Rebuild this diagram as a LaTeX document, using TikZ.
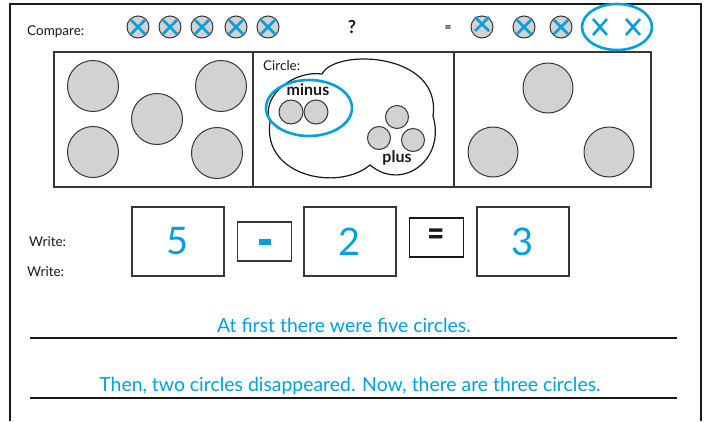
\documentclass[tikz,border=0pt]{standalone}
\usepackage{fontspec}
\setmainfont{Lato}
\usetikzlibrary{positioning}
\definecolor{pen}{RGB}{0, 160, 222}
\definecolor{ink}{RGB}{25, 25, 25}
\definecolor{discgray}{RGB}{210, 210, 210}
\definecolor{rim}{RGB}{55, 55, 55}

\begin{document}
\begin{tikzpicture}[x=1pt, y=-1pt,
    lbl/.style    = {font=\fontsize{13.5}{15}\selectfont\color{ink}, anchor=west, inner sep=0pt},
    disc/.style   = {fill=discgray, draw=rim, line width=1pt},
    dot/.style    = {circle, disc, minimum size=22pt, inner sep=0pt},
    cross/.style  = {draw=pen, line width=2.6pt},
    panel/.style  = {draw=rim, line width=1.2pt},
    numbox/.style = {draw=rim, line width=1.2pt, minimum width=92pt, minimum height=69pt,
                     font=\fontsize{38}{40}\selectfont\color{pen}},
    opbox/.style  = {draw=ink, line width=1.2pt, minimum width=54pt, minimum height=39pt},
    say/.style    = {font=\fontsize{19.4}{22}\selectfont\color{pen}, inner sep=0pt},
    ring/.style   = {draw=pen, line width=2.6pt},
    tag/.style    = {font=\fontsize{16}{18}\selectfont\bfseries\color{ink}},
  ]
    \useasboundingbox (0,0) rectangle (710,421);

    % sheet frame, open at the bottom
    \draw[ink, line width=2pt] (10,421) |- (701,4) -- (701,421);

    % --- compare row ---
    \node[lbl] (cmp) at (27,32) {Compare:};
    \foreach \x [count=\i] in {138,170,202,236,268} {
      \node[dot] (a\i) at (\x,27) {};
      \draw[cross] ([shift={(-7,-7)}]a\i.center) -- ([shift={(7,7)}]a\i.center);
      \draw[cross] ([shift={(-7,7)}]a\i.center) -- ([shift={(7,-7)}]a\i.center);
    }
    \node[font=\fontsize{18}{20}\selectfont\bfseries\color{ink}] (ask) at (352,27) {?};
    \node[font=\fontsize{12}{14}\selectfont\bfseries\color{ink}] (eq) at (448,29) {=};
    \foreach \x/\dy [count=\i] in {482/-3,524/0,561/0} {
      \node[dot] (b\i) at (\x,27) {};
      \draw[cross] ([shift={(-7,-7+\dy)}]b\i.center) -- ([shift={(7,7+\dy)}]b\i.center);
      \draw[cross] ([shift={(-7,7+\dy)}]b\i.center) -- ([shift={(7,-7+\dy)}]b\i.center);
    }
    \foreach \x [count=\i] in {600,633} {
      \coordinate (g\i) at (\x,27);
      \draw[cross] ([shift={(-7,-8)}]g\i) -- ([shift={(7,8)}]g\i);
      \draw[cross] ([shift={(-7,8)}]g\i) -- ([shift={(7,-8)}]g\i);
    }
    \draw[ring] (617,27) ellipse [x radius=35pt, y radius=23pt];

    % --- picture panels ---
    \draw[panel] (54,52) rectangle (651,187);
    \draw[panel] (253,52) -- (253,187);
    \draw[panel] (454,52) -- (454,187);

    % five circles
    \foreach \p in {(93,86),(93,152),(157,119),(221,86),(217,153)}
      \draw[disc] \p circle[radius=25.5pt];

    % the cloud
    \node[lbl] (circ) at (263,66) {Circle:};
    \draw[ink, line width=1.2pt, fill=white]
      (270,122) .. controls (260,95) and (295,70) .. (322,74)
                .. controls (335,48) and (442,52) .. (433,116)
                .. controls (446,160) and (402,192) .. (370,165)
                .. controls (338,192) and (262,176) .. cycle;
    \draw[disc] (291,112) circle[radius=12pt];
    \draw[disc] (316,112) circle[radius=12pt];
    \draw[disc] (397,117) circle[radius=11.5pt];
    \draw[disc] (379,138) circle[radius=11.5pt];
    \draw[disc] (413,140) circle[radius=11.5pt];
    \node[tag] (mns) at (308,90) {minus};
    \node[tag] (pls) at (397,158) {plus};
    \draw[ring] (309,108) ellipse [x radius=43pt, y radius=28pt];

    % three circles
    \foreach \p in {(548,88),(493,152),(609,152)}
      \draw[disc] \p circle[radius=25pt];

    % --- write row ---
    \node[lbl] (w1) at (29,242) {Write:};
    \node[lbl] (w2) at (27,272) {Write:};
    \node[numbox] (n1) at (178,241.5) {5};
    \node[opbox, draw=rim] (op1) at (264.5,241.5) {\color{pen}\rule{12pt}{6pt}};
    \node[numbox] (n2) at (350,241.5) {2};
    \node[opbox] (op2) at (436.5,237.5)
      {\color{ink}\scalebox{1}[1.25]{\fontsize{30}{32}\selectfont\bfseries =}};
    \node[numbox] (n3) at (523,241.5) {3};

    % --- sentences ---
    \node[say] (s1) at (344,325) {At first there were five circles.};
    \draw[ink, line width=2pt] (30,338) -- (677,338);
    \node[say] (s2) at (350,386) {Then, two circles disappeared. Now, there are three circles.};
    \draw[ink, line width=2pt] (30,398) -- (677,398);

  \end{tikzpicture}
\end{document}
